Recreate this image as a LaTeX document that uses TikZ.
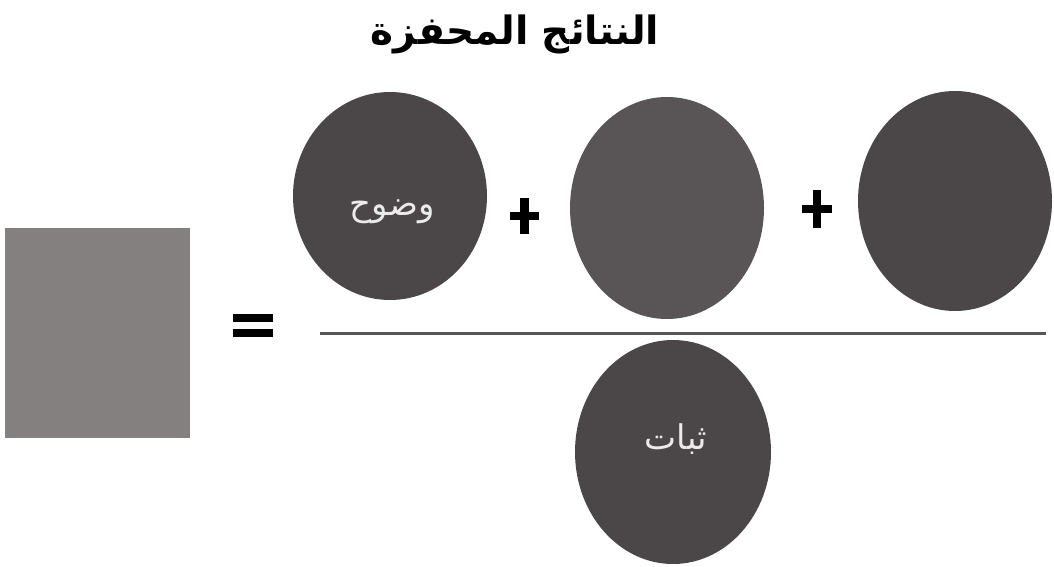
\documentclass[tikz,border=0pt]{standalone}
\usepackage{fontspec}
\newfontfamily\arabicfont[Script=Arabic]{DejaVu Sans}
\TeXXeTstate=1
\begin{document}
\begin{tikzpicture}[x=1pt,y=-1pt,
  disc/.style={draw=none,fill=discgray},
  lbl/.style={text=white!92!black,font=\arabicfont\fontsize{34}{40}\selectfont},
  opbar/.style={fill=black,draw=none}]
\definecolor{discgray}{HTML}{4B4647}
\definecolor{disclight}{HTML}{595455}
\definecolor{squaregray}{HTML}{858080}
\definecolor{linegray}{HTML}{5A5555}
\useasboundingbox (0,0) rectangle (1054,567);
% title
\node[font=\arabicfont\bfseries\fontsize{39}{46}\selectfont] (title) at (515,34) {\beginR النتائج المحفزة\endR};
% left square
\node[draw=none,fill=squaregray,minimum width=185pt,minimum height=210pt,inner sep=0pt] (sq) at (97,333) {};
% equals sign
\fill[opbar] (233,314) rectangle (273,322);
\fill[opbar] (233,329) rectangle (273,337);
\coordinate (eq) at (253,326);
% circles
\fill[disc] (390,196) ellipse [x radius=97, y radius=104];
\node[lbl] (c1) at (392,212) {\beginR وضوح\endR};
\fill[disclight] (667,208) ellipse [x radius=97, y radius=111];
\coordinate (c2) at (667,208);
\fill[disc] (955,201) ellipse [x radius=97, y radius=110];
\coordinate (c3) at (955,201);
% plus signs
\fill[opbar] (510,212) rectangle (539,220);
\fill[opbar] (520,198) rectangle (529,234);
\fill[opbar] (802,205) rectangle (832,213);
\fill[opbar] (813,190) rectangle (821,228);
% fraction line
\coordinate (fl) at (320,333);
\coordinate (fr) at (1046,333);
\draw[linegray,line width=3pt] (fl) -- (fr);
% denominator
\fill[disc] (673,452) ellipse [x radius=98, y radius=112];
\node[lbl] (c4) at (676,439) {\beginR ثبات\endR};
\end{tikzpicture}
\end{document}
